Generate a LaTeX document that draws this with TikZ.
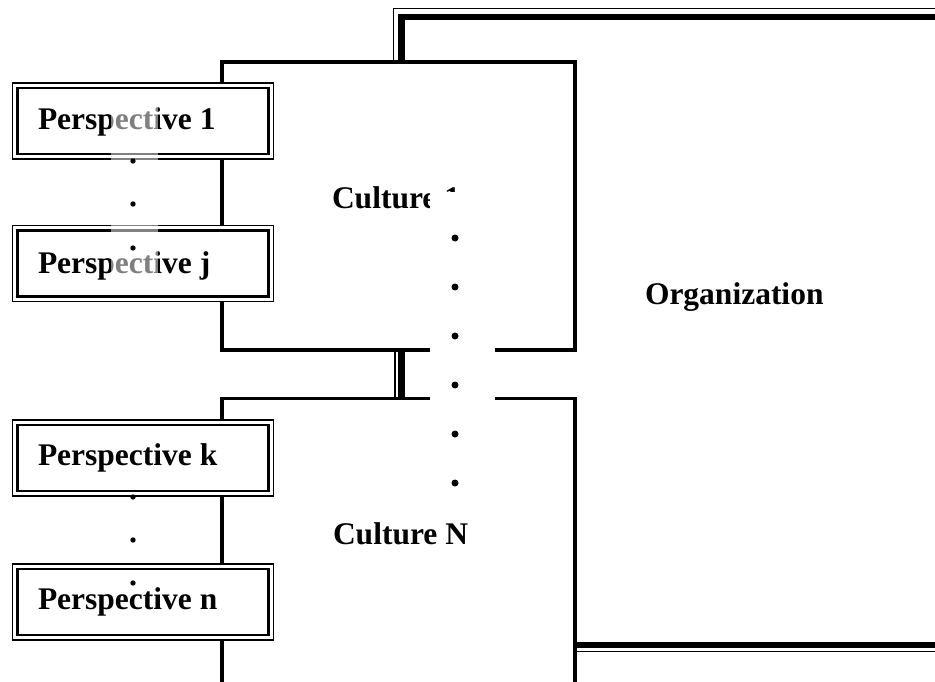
\documentclass[tikz,border=0pt]{standalone}
\usepackage{fontspec}
\setmainfont{Liberation Serif}
\begin{document}
\begin{tikzpicture}[x=1pt,y=-1pt,
  lbl/.style={font=\fontsize{31.5}{36}\selectfont\bfseries, anchor=base west, inner sep=0, outer sep=0},
  boxline/.style={line width=3.2pt, line join=miter},
  orgthin/.style={line width=1.5pt, line join=miter},
  orgthick/.style={line width=6.6pt, line join=miter},
  pouter/.style={draw, line width=1.4pt, fill=white, minimum width=261pt, minimum height=76pt, inner sep=0, outer sep=0},
  pinner/.style={draw, line width=2.4pt, minimum width=251pt, minimum height=66pt, inner sep=0, outer sep=0},
  bigdot/.style={circle, fill=black, inner sep=0, minimum size=7pt},
  smalldot/.style={circle, fill=black, inner sep=0, minimum size=5.4pt}]
\useasboundingbox (0,0) rectangle (935,682);
\clip (0,0) rectangle (935,682);
\fill[white] (0,0) rectangle (935,682);

% corner points of the culture boxes
\coordinate (c1nw) at (222,62);
\coordinate (c1ne) at (575,62);
\coordinate (c1se) at (575,350);
\coordinate (c1sw) at (222,350);
\coordinate (cNnw) at (222,398.5);
\coordinate (cNne) at (575,398.5);
\coordinate (cNsw) at (222,690);
\coordinate (cNse) at (575,690);

% organization frame: thin outer line and heavy inner line
\draw[orgthin] (393.5,62) -- (393.5,8.5) -- (945,8.5);
\draw[orgthick] (401.5,62) -- (401.5,17) -- (945,17);
\draw[orgthin] (395,350) -- (395,398.5);
\draw[orgthick] (401.5,350) -- (401.5,398.5);
\draw[orgthick] (577,645) -- (945,645);
\draw[orgthin] (577,651.7) -- (945,651.7);

% culture boxes
\draw[boxline] (c1nw) -- (c1ne) -- (c1se) -- (c1sw) -- cycle;
\draw[boxline] (cNsw) -- (cNnw) -- (cNne) -- (cNse);

% labels
\node[lbl] (cult1) at (332,208) {Culture 1};
\node[lbl] (cultN) at (333,544) {Culture N};
\node[lbl] (org) at (645,304) {Organization};

% opening between the cultures, with the dotted column
\fill[white] (430,192) rectangle (495,505);
\foreach \yy [count=\i] in {238,287,336,385,434,483}
  \node[bigdot] (cd\i) at (455,\yy) {};

% perspective boxes
\foreach \nm/\cy/\base/\txt in {p1/121/130/Perspective 1, pj/263.5/273/Perspective j,
                                 pk/458/465/Perspective k, pn/602/609/Perspective n}{
  \node[pouter] (\nm o) at (143,\cy) {};
  \node[pinner] (\nm) at (143,\cy) {};
  \node[lbl] (\nm t) at (38,\base) {\txt};
}

% faded band across the upper pair
\fill[white, fill opacity=0.5] (111,97) rectangle (158,285);

% dotted columns between perspectives
\foreach \yy [count=\i] in {161,204,248}
  \node[smalldot] (ud\i) at (133,\yy) {};
\foreach \yy [count=\i] in {497,540,583}
  \node[smalldot] (ld\i) at (133,\yy) {};
\end{tikzpicture}
\end{document}
